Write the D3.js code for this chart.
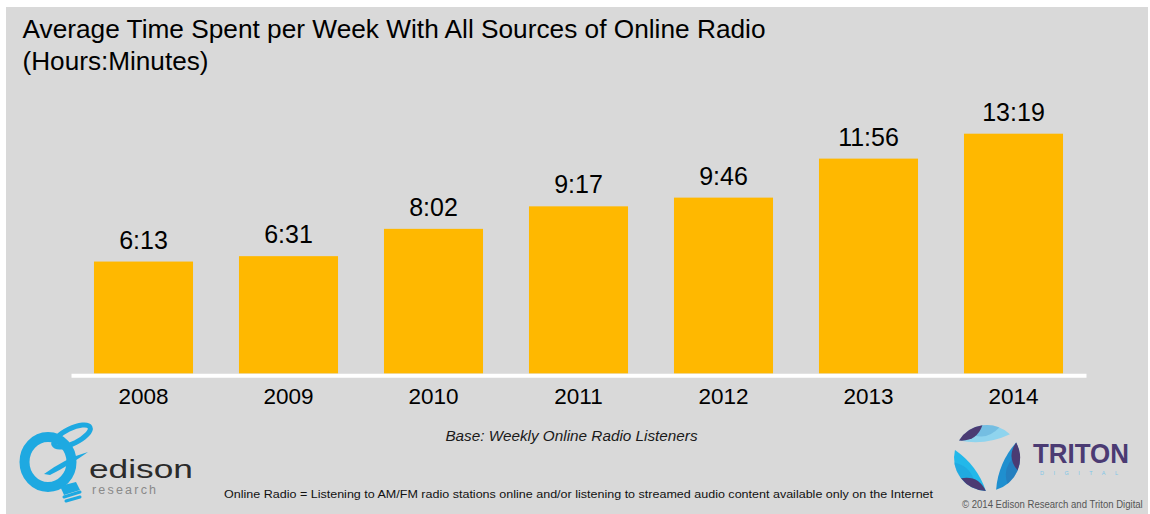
<!DOCTYPE html>
<html>
<head>
<meta charset="utf-8">
<script src="https://cdn.jsdelivr.net/npm/d3@7/dist/d3.min.js"></script>
<style>
  html, body { margin: 0; padding: 0; background: #ffffff; }
  svg { display: block; font-family: "Liberation Sans", Arial, sans-serif; }
</style>
</head>
<body>
<svg id="chart" width="1150" height="514"></svg>
<script>
// Survey years and average weekly listening time (hours:minutes)
const years = ["2008", "2009", "2010", "2011", "2012", "2013", "2014"];
const timeLabels = ["6:13", "6:31", "8:02", "9:17", "9:46", "11:56", "13:19"];

const titleLines = [
  "Average Time Spent per Week With All Sources of Online Radio",
  "(Hours:Minutes)"
];
const titleWidths = [743, 186];
const baseNote = "Base: Weekly Online Radio Listeners";
const definitionNote = "Online Radio = Listening to AM/FM radio stations online and/or listening to streamed audio content available only on the Internet";
const copyright = "\u00A9 2014 Edison Research and Triton Digital";

// "H:MM" -> hours as a decimal number
const toHours = s => { const [h, m] = s.split(":").map(Number); return h + m / 60; };
const data = years.map((y, i) => ({ year: y, label: timeLabels[i], hours: toHours(timeLabels[i]) }));

const svg = d3.select("#chart");

// squeeze a text horizontally so it spans exactly `width` pixels from x
function fitWidth(sel, x, width) {
  const natural = sel.node().getComputedTextLength();
  sel.attr("x", 0)
    .attr("transform", `translate(${x},0) scale(${width / natural},1)`);
}

// grey slide panel
svg.append("rect")
  .attr("x", 6).attr("y", 7).attr("width", 1142).attr("height", 507)
  .attr("fill", "#d9d9d9");

// title
svg.append("g").selectAll("text")
  .data(titleLines).join("text")
  .attr("x", 22.5)
  .attr("y", (d, i) => 38 + i * 32)
  .attr("font-size", 25.5)
  .attr("textLength", (d, i) => titleWidths[i])
  .attr("lengthAdjust", "spacingAndGlyphs")
  .attr("fill", "#000")
  .text(d => d);

// scales
const x = d3.scaleBand()
  .domain(years)
  .range([71, 1086])
  .paddingInner(0.317)
  .paddingOuter(0.1585);

const baseY = 373.5;
const y = d3.scaleLinear()
  .domain([0, d3.max(data, d => d.hours)])
  .range([baseY, 133.7]);

// bars
svg.append("g").selectAll("rect")
  .data(data).join("rect")
  .attr("x", d => x(d.year))
  .attr("y", d => y(d.hours))
  .attr("width", x.bandwidth())
  .attr("height", d => baseY - y(d.hours))
  .attr("fill", "#ffb800");

// value labels
svg.append("g").selectAll("text")
  .data(data).join("text")
  .attr("x", d => x(d.year) + x.bandwidth() / 2)
  .attr("y", d => y(d.hours) - 13)
  .attr("text-anchor", "middle")
  .attr("font-size", 25)
  .attr("fill", "#000")
  .text(d => d.label);

// baseline axis with year labels
const axis = svg.append("g")
  .attr("transform", `translate(0,${baseY + 1.8})`)
  .call(d3.axisBottom(x).tickSize(0).tickPadding(0));
axis.select(".domain")
  .attr("stroke", "#ffffff")
  .attr("stroke-width", 4);
axis.selectAll(".tick text")
  .attr("y", 28.5)
  .attr("dy", 0)
  .attr("font-size", 22.5)
  .attr("font-family", "Liberation Sans, Arial, sans-serif")
  .attr("fill", "#000");

// footnotes
svg.append("text")
  .attr("x", 571.5).attr("y", 441)
  .attr("text-anchor", "middle")
  .attr("font-size", 15.3)
  .attr("font-style", "italic")
  .attr("fill", "#1a1a1a")
  .text(baseNote);

const defText = svg.append("text")
  .attr("y", 498)
  .attr("font-size", 11.2)
  .attr("fill", "#111")
  .text(definitionNote);
fitWidth(defText, 224, 709);

const copyText = svg.append("text")
  .attr("y", 508.5)
  .attr("font-size", 10.5)
  .attr("fill", "#555")
  .text(copyright);
fitWidth(copyText, 962, 181);

// ---- Edison Research mark ----
const ed = svg.append("g").attr("class", "edison");
const edBlue = "#1ea9e1";
// orbit loop
ed.append("ellipse")
  .attr("cx", 0).attr("cy", 0).attr("rx", 20).attr("ry", 7.5)
  .attr("transform", "translate(72,436) rotate(-26)")
  .attr("fill", "none").attr("stroke", edBlue).attr("stroke-width", 5);
// ring
ed.append("ellipse")
  .attr("cx", 48).attr("cy", 462).attr("rx", 23.5).attr("ry", 25)
  .attr("fill", "none").attr("stroke", edBlue).attr("stroke-width", 10);
// swoosh
ed.append("path")
  .attr("d", "M44,474 Q66,458 88,452 Q70,465 50,475 Z")
  .attr("fill", edBlue);
// bulb base
ed.append("path")
  .attr("d", "M60,486 L76,482 L80,490 L64,495 Z")
  .attr("fill", edBlue);
[[64, 497, 80, 492], [66, 501, 80, 497]].forEach(s => {
  ed.append("line")
    .attr("x1", s[0]).attr("y1", s[1]).attr("x2", s[2]).attr("y2", s[3])
    .attr("stroke", edBlue).attr("stroke-width", 3).attr("stroke-linecap", "round");
});
const edName = ed.append("text")
  .attr("y", 478)
  .attr("font-size", 26)
  .attr("fill", "#2b2b2b")
  .text("edison");
fitWidth(edName, 89, 104);
ed.append("text")
  .attr("x", 92).attr("y", 494)
  .attr("font-size", 12.5)
  .attr("letter-spacing", 2.2)
  .attr("fill", "#8a8a8a")
  .text("research");

// ---- Triton Digital mark ----
const tr = svg.append("g").attr("class", "triton");
const cx = 987, cy = 458, R = 33;
const rad = a => a * Math.PI / 180;
const pt = a => [cx + R * Math.cos(rad(a)), cy + R * Math.sin(rad(a))];
// leaf-shaped arc segment between angles a1 and a2
function leaf(a1, a2, bulge) {
  const p1 = pt(a1), p2 = pt(a2);
  const am = (a1 + a2) / 2;
  const inner = [cx + (R - bulge) * Math.cos(rad(am)), cy + (R - bulge) * Math.sin(rad(am))];
  const ctrl = [2 * inner[0] - (p1[0] + p2[0]) / 2, 2 * inner[1] - (p1[1] + p2[1]) / 2];
  return `M${p1[0]},${p1[1]} A${R},${R} 0 0 1 ${p2[0]},${p2[1]} Q${ctrl[0]},${ctrl[1]} ${p1[0]},${p1[1]} Z`;
}
const blades = [
  { a: -148, colors: ["#8fd4ee", "#5aa8d6", "#4b3b73"] },
  { a: -28, colors: ["#1f8fcf", "#2a6fb0", "#4b3b73"] },
  { a: 92, colors: ["#22b8ea", "#1e9bd7", "#4b3b73"] }
];
blades.forEach(b => {
  tr.append("path").attr("d", leaf(b.a, b.a + 102, 16.5)).attr("fill", b.colors[0]);
  tr.append("path").attr("d", leaf(b.a + 20, b.a + 80, 11)).attr("fill", b.colors[1]).attr("opacity", 0.5);
  tr.append("path").attr("d", leaf(b.a, b.a + 50, 8.5)).attr("fill", b.colors[2]);
});
const trName = tr.append("text")
  .attr("y", 463)
  .attr("font-size", 28)
  .attr("font-weight", "bold")
  .attr("fill", "#4b3b73")
  .text("TRITON");
fitWidth(trName, 1033, 96);
tr.append("text")
  .attr("x", 1040).attr("y", 475)
  .attr("font-size", 5.5)
  .attr("letter-spacing", 9.5)
  .attr("fill", "#7fc6e8")
  .text("DIGITAL");
</script>
</body>
</html>
